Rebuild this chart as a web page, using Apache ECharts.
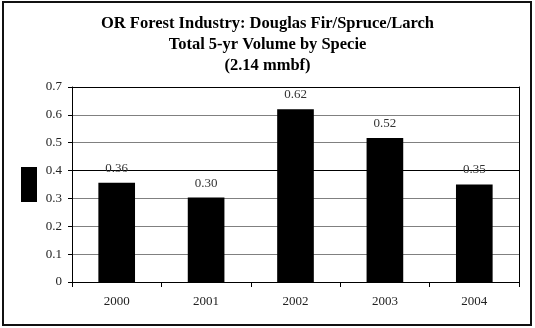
<!DOCTYPE html>
<html>
<head>
<meta charset="utf-8">
<script src="https://cdn.jsdelivr.net/npm/echarts@6/dist/echarts.min.js"></script>
<style>html,body{margin:0;padding:0;background:#fff}#c{width:535px;height:328px}</style>
</head>
<body>
<div id="c"></div>
<script>
const categories = ['2000', '2001', '2002', '2003', '2004'];
const volumes = [0.356, 0.303, 0.62, 0.517, 0.35];
const titleLines = ['OR Forest Industry: Douglas Fir/Spruce/Larch', 'Total 5-yr Volume by Specie', '(2.14 mmbf)'];
const yTicks = { min: 0, max: 0.7, interval: 0.1 };

const serif = '"Liberation Serif", "DejaVu Serif", serif';
const chart = echarts.init(document.getElementById('c'), null, { renderer: 'canvas' });
chart.setOption({
  backgroundColor: '#fff',
  animation: false,
  title: {
    text: titleLines.join('\n'),
    left: 'center',
    top: 8,
    textStyle: { fontFamily: serif, fontSize: 16.5, fontWeight: 'bold', color: '#000', lineHeight: 21 }
  },
  legend: {
    data: ['Volume'],
    left: 21, top: 167,
    padding: 0,
    itemWidth: 16, itemHeight: 35,
    icon: 'rect',
    formatter: () => '',
    selectedMode: false
  },
  grid: { left: 72, right: 16, top: 87, bottom: 46, containLabel: false },
  xAxis: {
    type: 'category',
    data: categories,
    axisLine: { lineStyle: { color: '#000', width: 1 } },
    axisTick: { show: true, alignWithLabel: false, length: 5, lineStyle: { color: '#000' } },
    axisLabel: { fontFamily: serif, fontSize: 13, color: '#222', margin: 13 }
  },
  yAxis: [{
    type: 'value',
    min: yTicks.min, max: yTicks.max, interval: yTicks.interval,
    axisLine: { show: true, lineStyle: { color: '#000' } },
    axisTick: { show: true, length: 4, lineStyle: { color: '#000' } },
    axisLabel: { fontFamily: serif, fontSize: 13, color: '#222', margin: 10, formatter: v => (Math.round(v * 10) / 10).toString() },
    splitLine: { show: true, lineStyle: { color: ['#808080', '#808080', '#808080', '#808080', '#000', '#808080', '#808080', '#000'], width: 1 } }
  }, {
    type: 'value', position: 'right',
    min: yTicks.min, max: yTicks.max, interval: yTicks.interval,
    axisLine: { show: true, lineStyle: { color: '#000' } },
    axisTick: { show: false }, axisLabel: { show: false }, splitLine: { show: false }
  }],
  series: [{
    name: 'Volume',
    type: 'bar',
    data: volumes,
    barWidth: '41%',
    itemStyle: { color: '#000' },
    label: {
      show: true, position: 'top', distance: 8,
      fontFamily: serif, fontSize: 13, color: '#333',
      formatter: p => p.value.toFixed(2)
    }
  }],
  graphic: [{
    type: 'rect',
    shape: { x: 3, y: 2, width: 528, height: 323 },
    style: { fill: null, stroke: '#111', lineWidth: 2 },
    silent: true
  }]
});
</script>
</body>
</html>
